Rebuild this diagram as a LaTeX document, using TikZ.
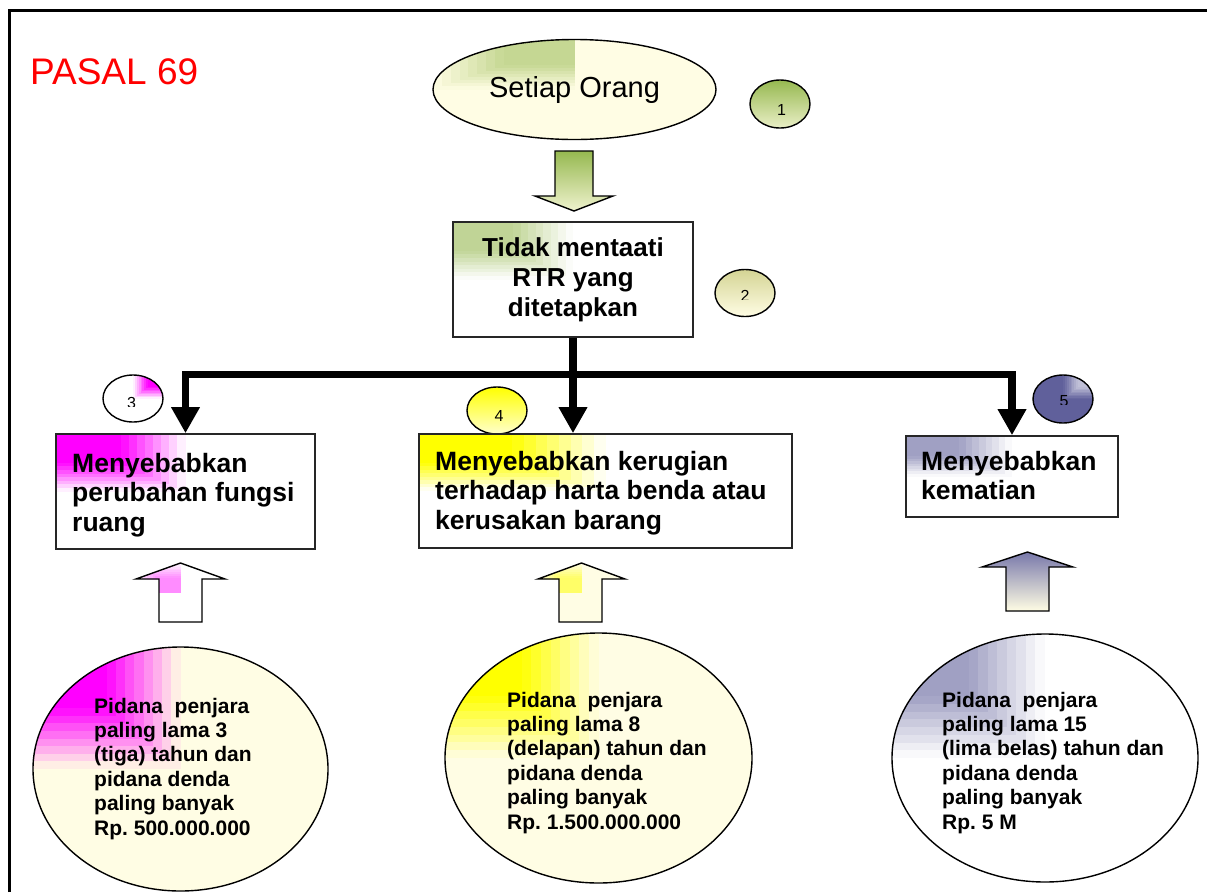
\documentclass[tikz,border=0pt]{standalone}
\usepackage{fontspec}
\setmainfont{Liberation Sans}
\usetikzlibrary{arrows.meta,shapes.geometric,calc}
\definecolor{cream}{RGB}{255,253,228}
\definecolor{olive}{RGB}{150,184,80}
\definecolor{khaki}{RGB}{212,212,148}
\definecolor{mag}{RGB}{255,0,255}
\definecolor{yel}{RGB}{255,255,0}
\definecolor{slate}{RGB}{96,96,155}
\definecolor{pasalred}{RGB}{255,0,0}
\colorlet{grn2}{olive!60!white}
\colorlet{slatel}{slate!60!white}
\begin{document}
\frenchspacing
\begin{tikzpicture}[x=1pt,y=-1pt,
  >={Triangle[width=27pt,length=26pt]},
  boxn/.style={draw=black!85, line width=1.6pt, fill=white, rectangle, inner sep=0pt},
  ovl/.style={draw=black, line width=1.4pt, ellipse, inner sep=0pt},
  blk/.style={draw=black, line width=1.4pt, line join=miter},
  conn/.style={draw=black, line width=7.5pt, line join=miter},
  cgrad/.style n args={4}{path picture={
    \foreach \k in {16,15,...,1}{
      \pgfmathtruncatemacro\pp{min(100,200*(1-(\k-0.5)/16))}
      \fill[#1!\pp!#2] (path picture bounding box.#3) rectangle ($(path picture bounding box.#3)!\k/16!(path picture bounding box.#4)$);
    }}},
  btxt/.style={inner sep=0pt, anchor=base west, font=\bfseries\fontsize{26.5}{29.5}\selectfont},
  ptxt/.style={inner sep=0pt, anchor=base west, font=\bfseries\fontsize{21}{24.4}\selectfont},
  num/.style={inner sep=0pt, anchor=base, font=\fontsize{16}{16}\selectfont},
]
\useasboundingbox (0,0) rectangle (1207,892);
% frame
\draw[line width=3pt] (9,892) -- (9,10.5) -- (1207,10.5);

% title
\node[anchor=base west, inner sep=0pt, text=pasalred, font=\fontsize{37}{40}\selectfont] (title) at (30,84) {PASAL 69};

% top ellipse
\node[ovl, fill=cream, minimum width=283pt, minimum height=100pt, font=\fontsize{29}{32}\selectfont,
  cgrad={olive!55!cream}{cream}{north}{west}] (setiap) at (574.5,89.5) {Setiap Orang};

% number circles
\node[ovl, minimum width=60pt, minimum height=48pt, top color=olive, bottom color=olive!20!cream] (c1) at (780,104) {};
\node[num] (n1) at (781.5,115) {1};

\node[ovl, minimum width=60pt, minimum height=47pt, top color=khaki, bottom color=cream] (c2) at (745,293) {};
\begin{scope}
\clip (700,250) rectangle (800,299);
\node[num] (n2) at (745,301.5) {2};
\end{scope}

\node[ovl, minimum width=60pt, minimum height=47pt, fill=white, cgrad={mag}{white}{north east}{center}] (c3) at (133,398.5) {};
\begin{scope}
\clip (90,360) rectangle (180,406);
\node[num] (n3) at (131.5,408.5) {3};
\end{scope}

\node[ovl, minimum width=60pt, minimum height=47pt, top color=yel, bottom color=yel!20!white] (c4) at (497,410.5) {};
\node[num] (n4) at (499,421.5) {4};

\node[ovl, minimum width=60pt, minimum height=48pt, fill=slate, cgrad={slate!40!white}{slate}{north east}{center}] (c5) at (1063,399) {};
\begin{scope}
\clip (1020,360) rectangle (1110,404);
\node[num] (n5) at (1064,406.5) {5};
\end{scope}

% green arrow
\draw[blk, top color=olive, bottom color=olive!15!cream] (555,151) -- (593,151) -- (593,196) -- (613,196) -- (574,211) -- (535,196) -- (555,196) -- cycle;

% boxes
\node[boxn, minimum width=240pt, minimum height=115pt, align=center, font=\bfseries\fontsize{26}{30}\selectfont, cgrad={grn2}{white}{north west}{center}] (b2) at (573,279.5) {Tidak mentaati\\RTR yang\\ditetapkan};

\node[boxn, minimum width=259pt, minimum height=115pt, cgrad={mag}{white}{north west}{center}] (b3) at (185.5,491.5) {};
\node[btxt] (t3) at (72,472) {\vtop{\hbox{Menyebabkan}\hbox{perubahan fungsi}\hbox{ruang}}};

\node[boxn, minimum width=373pt, minimum height=114pt, cgrad={yel}{white}{north west}{center}] (b4) at (605.5,491) {};
\node[btxt] (t4) at (435,470) {\vtop{\hbox{Menyebabkan kerugian}\hbox{terhadap harta benda atau}\hbox{kerusakan barang}}};

\node[boxn, minimum width=212pt, minimum height=81pt, cgrad={slatel}{white}{north west}{center}] (b5) at (1012,476.5) {};
\node[btxt] (t5) at (921,470) {\vtop{\hbox{Menyebabkan}\hbox{kematian}}};

% connectors
\coordinate (hy) at (0,374.5);
\draw[conn,->] (b2.south) -- (b2.south |- b4.north);
\draw[conn,<->] (b3.north) -- (b3.north |- hy) -- (b5.north |- hy) -- (b5.north);

% up arrows
\draw[blk, fill=white, cgrad={mag!45!white}{white}{center}{north west}]
  (159,622) -- (159,579) -- (136,579) -- (180.5,563) -- (225,579) -- (202,579) -- (202,622) -- cycle;
\draw[blk, fill=cream, cgrad={yel!55!cream}{cream}{center}{north west}]
  (559,622) -- (559,579) -- (538,579) -- (581.5,563) -- (625,579) -- (602,579) -- (602,622) -- cycle;
\draw[blk, top color=slate!85!white, bottom color=cream]
  (1006,611) -- (1006,567) -- (982,567) -- (1027.5,552) -- (1073,567) -- (1049,567) -- (1049,611) -- cycle;

% penalty ellipses
\node[ovl, fill=cream, minimum width=295pt, minimum height=244pt, cgrad={mag}{cream}{north west}{center}] (e3) at (180.5,769) {};
\node[ptxt] (p3) at (94,713) {\vtop{\hbox{Pidana\ \ penjara}\hbox{paling lama 3}\hbox{(tiga) tahun dan}\hbox{pidana denda}\hbox{paling banyak}\hbox{Rp. 500.000.000}}};

\node[ovl, fill=cream, minimum width=307pt, minimum height=250pt, cgrad={yel}{cream}{north west}{center}] (e4) at (598.5,758) {};
\node[ptxt] (p4) at (507,707) {\vtop{\hbox{Pidana\ \ penjara}\hbox{paling lama 8}\hbox{(delapan) tahun dan}\hbox{pidana denda}\hbox{paling banyak}\hbox{Rp. 1.500.000.000}}};

\node[ovl, fill=white, minimum width=306pt, minimum height=248pt, cgrad={slatel}{white}{north west}{center}] (e5) at (1045,758) {};
\node[ptxt] (p5) at (942,707) {\vtop{\hbox{Pidana\ \ penjara}\hbox{paling lama 15}\hbox{(lima belas) tahun dan}\hbox{pidana denda}\hbox{paling banyak}\hbox{Rp. 5 M}}};
\end{tikzpicture}
\end{document}
